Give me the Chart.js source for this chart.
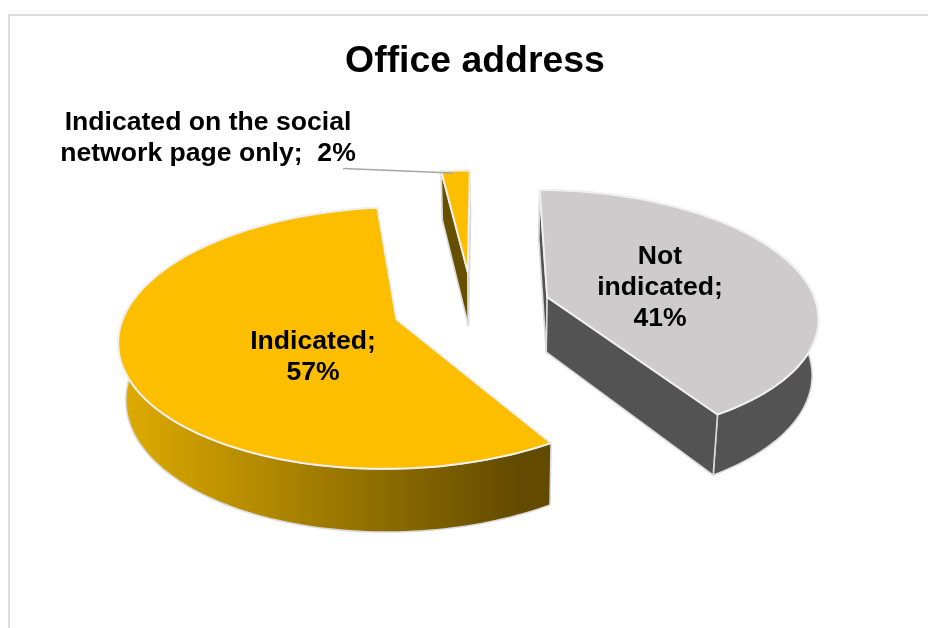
<!DOCTYPE html>
<html lang="en">
<head>
  <meta charset="UTF-8">
  <title>Office address</title>
  <script src="https://cdn.jsdelivr.net/npm/chart.js"></script>
  <style>
    html, body { margin: 0; padding: 0; background: #fff; overflow: hidden; }
    #wrap { position: relative; width: 928px; height: 628px; overflow: hidden; }
    #frame {
      position: absolute; left: 8px; top: 14px; width: 1000px; height: 700px;
      border-left: 2px solid #dcdcdc;
      border-top: 2px solid #dcdcdc;
    }
    canvas { position: absolute; left: 0; top: 0; }
  </style>
</head>
<body>
  <div id="wrap">
    <div id="frame"></div>
    <canvas id="pie" width="928" height="628"></canvas>
  </div>

  <script>
    const categories = ['Indicated', 'Indicated on the social network page only', 'Not indicated'];
    const shares = [57, 2, 41];
    const sliceLabelLines = [['Indicated'], ['Indicated on the social', 'network page only'], ['Not', 'indicated']];

    const topColors = ['#fdbe00', '#fdbe00', '#cdcbcc'];
    const sideColors = ['#6a5000', '#665000', '#535353'];

    // tilted view of the pie plane
    const VIEW = { x: 472, y: 307, tilt: 0.4624, persp: 0.000519, vanishX: 500, spread: 0.02 };
    const EXPLODE = 79;
    const LABEL_FONT = 'bold 26.6px "Liberation Sans", Arial, sans-serif';

    function project(u, v) {
      const w = 1 / (1 - VIEW.persp * v);
      return [VIEW.x + u * w, VIEW.y + VIEW.tilt * v * w];
    }

    // same point on the underside of the slab
    function drop(p) {
      const depth = 49 + (p[1] - 173) * 0.048;
      return [p[0] + (VIEW.vanishX - p[0]) * VIEW.spread, p[1] + depth];
    }

    function tracePath(ctx, pts) {
      ctx.beginPath();
      pts.forEach((p, i) => (i ? ctx.lineTo(p[0], p[1]) : ctx.moveTo(p[0], p[1])));
    }

    function sliceOutline(arc) {
      const { startAngle, endAngle, outerRadius } = arc.getProps(['startAngle', 'endAngle', 'outerRadius'], true);
      const mid = (startAngle + endAngle) / 2;
      const cu = Math.cos(mid) * EXPLODE;
      const cv = Math.sin(mid) * EXPLODE;
      const steps = Math.max(4, Math.ceil((endAngle - startAngle) * 40));
      const rim = [];
      for (let i = 0; i <= steps; i++) {
        const a = startAngle + (endAngle - startAngle) * i / steps;
        rim.push(project(cu + Math.cos(a) * outerRadius, cv + Math.sin(a) * outerRadius));
      }
      return { apex: project(cu, cv), rim };
    }

    const slabPlugin = {
      id: 'slab',
      // the slices are painted here instead of by the arc elements
      beforeDatasetDraw(chart) {
        const ctx = chart.ctx;
        const arcs = chart.getDatasetMeta(0).data;
        // back slice first so nearer ones paint over it
        [1, 2, 0].forEach(i => {
          const { apex, rim } = sliceOutline(arcs[i]);
          const lowRim = rim.map(drop);
          const lowApex = drop(apex);

          ctx.save();
          ctx.lineJoin = 'round';
          ctx.strokeStyle = '#dadada';
          ctx.lineWidth = 1.6;

          // curved wall
          tracePath(ctx, rim.concat(lowRim.slice().reverse()));
          ctx.closePath();
          if (i === 0) {
            const g = ctx.createLinearGradient(122, 0, 520, 0);
            g.addColorStop(0, '#deab00');
            g.addColorStop(1, '#624b00');
            ctx.fillStyle = g;
          } else {
            ctx.fillStyle = sideColors[i];
          }
          ctx.fill();
          ctx.stroke();

          // radial walls, the big slice hides both of its own
          if (i !== 0) {
            [rim[0], rim[rim.length - 1]].forEach(edge => {
              tracePath(ctx, [apex, edge, drop(edge), lowApex]);
              ctx.closePath();
              ctx.fillStyle = sideColors[i];
              ctx.fill();
              ctx.stroke();
            });
          }

          // top face
          tracePath(ctx, [apex].concat(rim));
          ctx.closePath();
          ctx.fillStyle = topColors[i];
          ctx.fill();
          ctx.strokeStyle = '#f0f0f0';
          ctx.lineWidth = 2;
          ctx.stroke();
          ctx.restore();
        });
        return false;
      },
      afterDatasetsDraw(chart) {
        const ctx = chart.ctx;
        ctx.save();

        // leader for the narrow slice
        ctx.strokeStyle = '#a6a6a6';
        ctx.lineWidth = 1.5;
        ctx.beginPath();
        ctx.moveTo(343, 168.5);
        ctx.lineTo(453, 173);
        ctx.stroke();

        ctx.fillStyle = '#000';
        ctx.font = LABEL_FONT;
        ctx.textAlign = 'center';
        ctx.textBaseline = 'alphabetic';

        const pct = i => shares[i] + '%';
        const yellow = sliceLabelLines[0];
        ctx.fillText(yellow[0] + ';', 313, 349);
        ctx.fillText(pct(0), 313, 380);

        const grey = sliceLabelLines[2];
        ctx.fillText(grey[0], 660, 264);
        ctx.fillText(grey[1] + ';', 660, 295);
        ctx.fillText(pct(2), 660, 326);

        const thin = sliceLabelLines[1];
        ctx.fillText(thin[0], 208, 130);
        ctx.fillText(thin[1] + ';  ' + pct(1), 208, 161);
        ctx.restore();
      }
    };

    new Chart(document.getElementById('pie'), {
      type: 'pie',
      data: {
        labels: categories,
        datasets: [{ data: shares, backgroundColor: topColors, offset: EXPLODE }]
      },
      options: {
        responsive: false,
        animation: false,
        rotation: 148,
        radius: 270,
        layout: { padding: { left: 22 } },
        plugins: {
          legend: { display: false },
          tooltip: { enabled: false },
          title: {
            display: true,
            text: 'Office address',
            color: '#000',
            font: { family: '"Liberation Sans", Arial, sans-serif', size: 37.4, weight: 'bold' },
            padding: { top: 39, bottom: 10 }
          }
        }
      },
      plugins: [slabPlugin]
    });
  </script>
</body>
</html>
